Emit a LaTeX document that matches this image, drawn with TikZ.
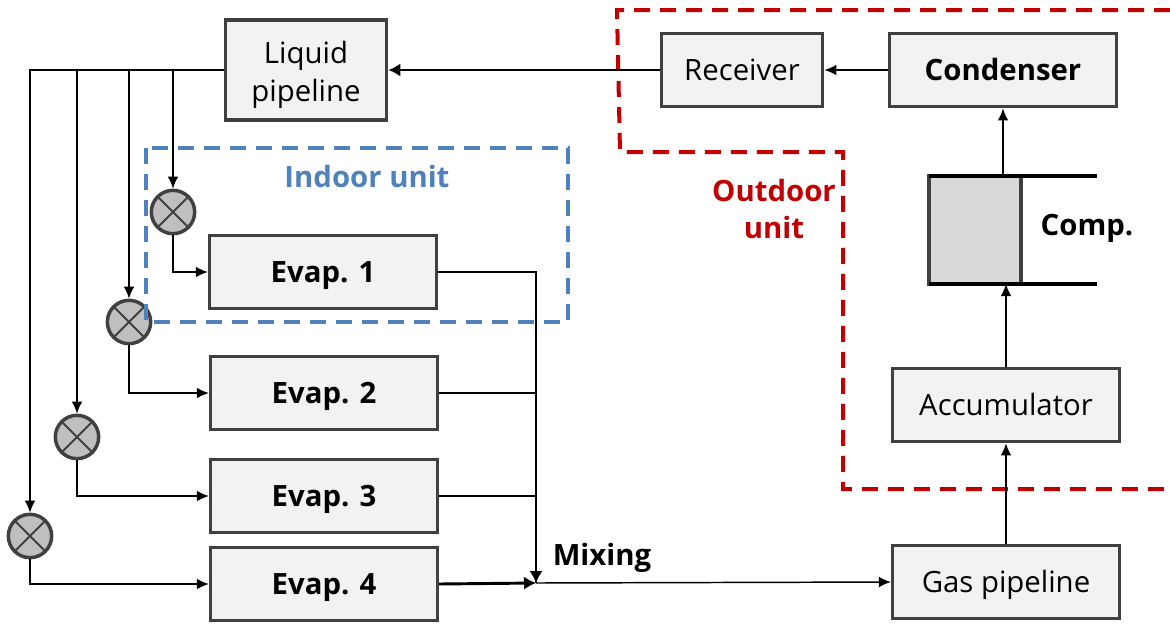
\documentclass[tikz,border=0pt]{standalone}
\usepackage{fontspec}
\setmainfont{Open Sans}
\usetikzlibrary{arrows.meta, positioning}
\definecolor{boxline}{HTML}{404040}
\definecolor{boxfill}{HTML}{F2F2F2}
\definecolor{valvefill}{HTML}{BFBFBF}
\definecolor{compfill}{HTML}{D9D9D9}
\definecolor{indoorblue}{HTML}{4F81BD}
\definecolor{outdoorred}{HTML}{C00000}
\tikzset{
  unit/.style={draw=boxline, line width=2.6pt, fill=boxfill, inner sep=0pt, align=center, font=\fontsize{22}{28}\selectfont,
    execute at begin node={\rule[-5.5pt]{0pt}{27pt}}},
  evap/.style={unit, minimum width=170pt, minimum height=55pt, font=\fontsize{22}{28}\selectfont\bfseries},
  valve/.style={circle, draw=boxline, line width=2.6pt, fill=valvefill, minimum size=32.5pt, inner sep=0pt,
    path picture={\draw[boxline, line width=1.4pt] (path picture bounding box.north west) -- (path picture bounding box.south east)
      (path picture bounding box.north east) -- (path picture bounding box.south west);}},
  pipe/.style={line width=1.1pt, -{Latex[length=9pt, width=8pt]}},
  mainpipe/.style={line width=2.2pt, -{Latex[length=9pt, width=10pt]}},
  plain/.style={line width=1.1pt},
  zone/.style={line width=3pt, dash pattern=on 12pt off 7.5pt},
}
\begin{document}
\begin{tikzpicture}[x=0.75pt, y=-0.75pt]
        \useasboundingbox (0,0) rectangle (1170,625);

        % Outdoor zone
        \draw[zone, outdoorred] (1170,10) -- (617,10) -- (620,152) -- (843,152) -- (843,489) -- (1170,489);
        \node[font=\fontsize{22}{28}\selectfont\bfseries, text=outdoorred, align=center] (outdoor) at (774,209) {Outdoor\\unit};

        % Main units
        \node[unit, minimum width=121pt, minimum height=75pt, execute at begin node={\rule{0pt}{52pt}}] (liquid) at (306,70) {Liquid\\pipeline};
        \node[unit, minimum width=121pt, minimum height=55pt] (receiver) at (742,70) {Receiver};
        \node[unit, minimum width=170pt, minimum height=55pt, font=\fontsize{22}{28}\selectfont\bfseries] (condenser) at (1003,70) {Condenser};
        \node[unit, minimum width=170pt, minimum height=55pt] (accum) at (1006,405) {Accumulator};
        \node[unit, minimum width=170pt, minimum height=55pt] (gas) at (1006,582) {Gas pipeline};

        % Compressor
        \node[draw=boxline, line width=2.6pt, fill=compfill, minimum width=69pt, minimum height=81pt, inner sep=0pt, outer sep=0pt] (comp) at (975,230) {};
        \coordinate (compend) at (1097,230);
        \draw[line width=3pt] (comp.north west) -- (comp.north west -| compend);
        \draw[line width=3pt] (comp.south west) -- (comp.south west -| compend);
        \node[font=\fontsize{22}{28}\selectfont\bfseries] (complabel) at (1087,228) {Comp.};

        % Evaporators
        \node[evap] (evap1) at (323,272) {Evap. 1};
        \node[evap] (evap2) at (324,393) {Evap. 2};
        \node[evap] (evap3) at (324,496) {Evap. 3};
        \node[evap] (evap4) at (324,584) {Evap. 4};

        % Valves
        \node[valve] (valve1) at (173,212) {};
        \node[valve] (valve2) at (129,322) {};
        \node[valve] (valve3) at (77,437) {};
        \node[valve] (valve4) at (30,536) {};

        % Indoor zone
        \draw[zone, indoorblue] (146,148) rectangle (568,322);
        \node[font=\fontsize{22}{28}\selectfont\bfseries, text=indoorblue] (indoor) at (367,176) {Indoor unit};

        % Mixing
        \coordinate (mix) at (536,583);
        \node[font=\fontsize{22}{24}\selectfont\bfseries] (mixing) at (602,558) {Mixing};

        % Arrows outdoor
        \draw[pipe] (condenser) -- (receiver);
        \draw[mainpipe] (receiver) -- (liquid);
        \draw[pipe] (comp.north -| condenser.south) -- (condenser.south);
        \draw[pipe] (accum.north) -- (accum.north |- comp.south);
        \draw[pipe] (gas.north) -- (accum.south);

        % Arrows liquid line
        \draw[pipe] (liquid.west) -| (valve1.north);
        \draw[pipe] (liquid.west) -| (valve2.north);
        \draw[pipe] (liquid.west) -| (valve3.north);
        \draw[pipe] (liquid.west) -| (valve4.north);
        \draw[plain, line width=2.2pt] (liquid.west) -- (liquid.west -| valve2.north);

        % Arrows valves
        \draw[pipe] (valve1.south) |- (evap1.west);
        \draw[pipe] (valve2.south) |- (evap2.west);
        \draw[pipe] (valve3.south) |- (evap3.west);
        \draw[pipe] (valve4.south) |- (evap4.west);

        % Arrows mixing
        \draw[plain] (evap1.east) -| (mix);
        \draw[plain] (evap2.east) -- (evap2.east -| mix);
        \draw[plain] (evap3.east) -- (evap3.east -| mix);
        \draw[mainpipe] (evap3.east -| mix) -- (mix);
        \draw[mainpipe] (evap4.east) -- (mix);
        \draw[pipe] (mix) -- (gas.west);
\end{tikzpicture}
\end{document}
